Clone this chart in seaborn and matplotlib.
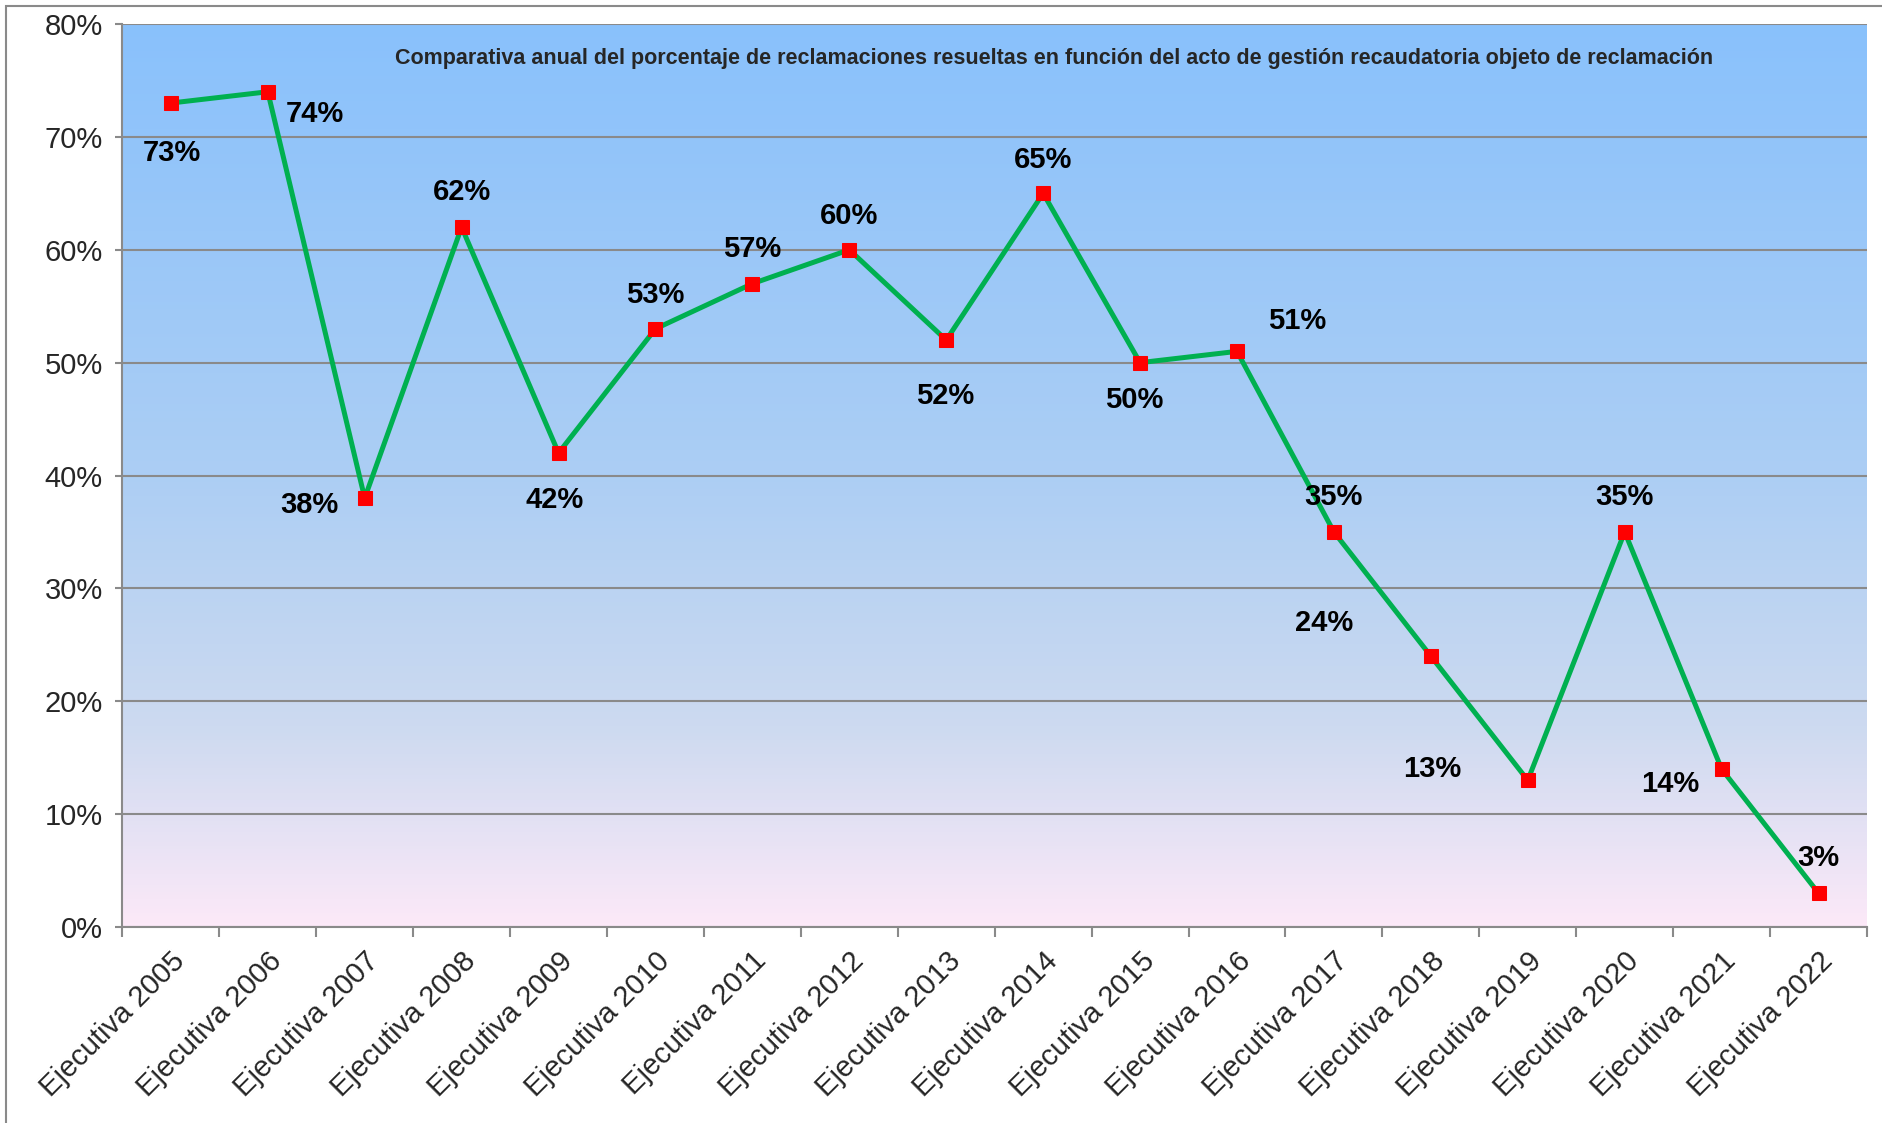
import numpy as np
import pandas as pd
import seaborn as sns
import matplotlib.pyplot as plt
from matplotlib.colors import LinearSegmentedColormap
from matplotlib.patches import Rectangle
from matplotlib.ticker import FixedLocator, PercentFormatter

# Datos
categorias = ["Ejecutiva 2005", "Ejecutiva 2006", "Ejecutiva 2007", "Ejecutiva 2008",
              "Ejecutiva 2009", "Ejecutiva 2010", "Ejecutiva 2011", "Ejecutiva 2012",
              "Ejecutiva 2013", "Ejecutiva 2014", "Ejecutiva 2015", "Ejecutiva 2016",
              "Ejecutiva 2017", "Ejecutiva 2018", "Ejecutiva 2019", "Ejecutiva 2020",
              "Ejecutiva 2021", "Ejecutiva 2022"]
porcentajes = [73, 74, 38, 62, 42, 53, 57, 60, 52, 65, 50, 51, 35, 24, 13, 35, 14, 3]
titulo = ("Comparativa anual del porcentaje de reclamaciones resueltas en función "
          "del acto de gestión recaudatoria objeto de reclamación")

# desplazamiento de cada etiqueta (puntos)
offsets_etiquetas = [(1, -36), (34, -16), (-40, -5), (0, 25), (-3, -34), (0, 24),
                     (0, 25), (0, 24), (-1, -40), (0, 24), (-4, -27), (43, 22),
                     (0, 25), (-77, 24), (-69, 8), (0, 25), (-37, -11), (0, 25)]

sns.set_theme(style="white")
plt.rcParams['font.family'] = ['Liberation Sans', 'DejaVu Sans']

df = pd.DataFrame({"categoria": categorias, "valor": porcentajes})
df["pos"] = np.arange(len(df))

fig = plt.figure(figsize=(18.83, 11.23), dpi=100)
ax = fig.add_axes([0.065, 0.1745, 0.9265, 0.8041])

# fondo degradado (azul arriba, rosa abajo)
degradado = LinearSegmentedColormap.from_list("fondo", [
    (0.0, "#89C1FC"), (0.5, "#ACCEF4"), (0.78, "#CDDAF0"), (1.0, "#FCE9F8")])
grad = np.linspace(0, 1, 256).reshape(-1, 1)
ax.imshow(grad, cmap=degradado, extent=[-0.5, len(categorias) - 0.5, 0, 80],
          origin='upper', aspect='auto', zorder=0)

sns.lineplot(data=df, x="pos", y="valor", ax=ax, color="#00B050", linewidth=3.6,
             marker="s", markersize=10, markerfacecolor="#FF0000",
             markeredgecolor="#FF0000", zorder=3)

for i, v in enumerate(porcentajes):
    dx, dy = offsets_etiquetas[i]
    ax.annotate(f"{v}%", (i, v), xytext=(dx, dy), textcoords="offset points",
                ha="center", va="center", fontsize=21, fontweight="bold", color="black",
                zorder=4)

ax.set_xlim(-0.5, len(categorias) - 0.5)
ax.set_ylim(0, 80)
ax.set_yticks(range(0, 81, 10))
ax.yaxis.set_major_formatter(PercentFormatter(decimals=0))
ax.grid(axis='y', color='#8a8a8a', linewidth=1.5, zorder=1)
ax.set_axisbelow(True)

ax.set_xticks(df["pos"])
ax.set_xticklabels(categorias, rotation=45, ha='right', rotation_mode='anchor')
ax.xaxis.set_minor_locator(FixedLocator(np.arange(-0.5, len(categorias), 1)))
ax.tick_params(axis='x', which='major', length=0, pad=14, labelsize=21)
ax.tick_params(axis='x', which='minor', length=7, width=1.5, color='#8a8a8a', bottom=True)
ax.tick_params(axis='y', which='major', length=5, width=1.5, color='#8a8a8a',
               left=True, pad=9, labelsize=21)
ax.set_xlabel("")
ax.set_ylabel("")

for lado in ['top', 'right']:
    ax.spines[lado].set_visible(False)
for lado in ['left', 'bottom']:
    ax.spines[lado].set_color('#8a8a8a')
    ax.spines[lado].set_linewidth(1.5)

fig.text(0.56, 0.948, titulo, ha='center', va='center', fontsize=15.5,
         fontweight='bold')

# borde exterior del gráfico
fig.patches.append(Rectangle((0.003, -0.01), 1.1, 1.005, transform=fig.transFigure,
                             fill=False, edgecolor='#8a8a8a', linewidth=1.5))

plt.savefig("out.png", dpi=100)
plt.close()
